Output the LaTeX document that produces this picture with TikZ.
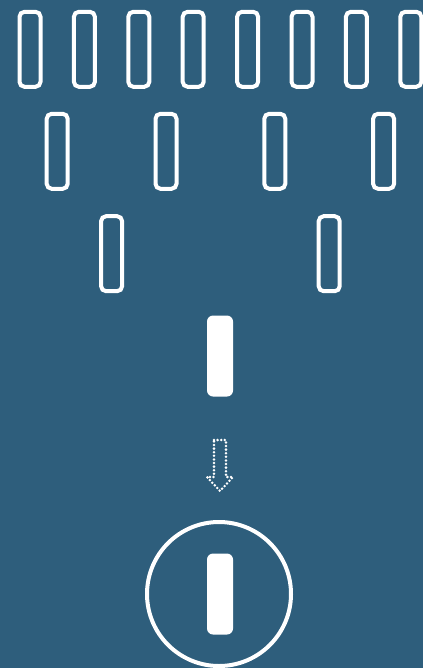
\documentclass[tikz,border=0pt]{standalone}
\definecolor{bg}{RGB}{46,94,124}
\begin{document}
\begin{tikzpicture}[x=1pt,y=-1pt,
  outl/.style={draw=white,line width=4pt,rounded corners=5pt,minimum width=21pt,minimum height=75pt,inner sep=0pt},
  filledbar/.style={fill=white,rounded corners=6pt,minimum width=26pt,minimum height=81pt,inner sep=0pt},
  dotarrow/.style={draw=white,line width=2.8pt,dash pattern=on 0pt off 3.6pt,line cap=round}]
\fill[bg] (0,0) rectangle (423,668);
\useasboundingbox (0,0) rectangle (423,668);
\foreach \i in {0,...,7}{
  \node[outl] (a\i) at ({30+54.4*\i},49.3) {};
}
\foreach \i in {0,...,3}{
  \node[outl] (b\i) at ({57.2+108.8*\i},151.3) {};
}
\node[outl] (c0) at (111.6,253.7) {};
\node[outl] (c1) at (329.2,253.7) {};
\node[filledbar] (d) at (220,356) {};
\draw[dotarrow] (214,440) -- (226,440) -- (226,477) -- (233,477) -- (220,491) -- (207,477) -- (214,477) -- cycle;
\node[draw=white,line width=4pt,circle,minimum size=144pt,inner sep=0pt] (circ) at (219,594) {};
\node[filledbar] (e) at (220,594) {};
\end{tikzpicture}
\end{document}
